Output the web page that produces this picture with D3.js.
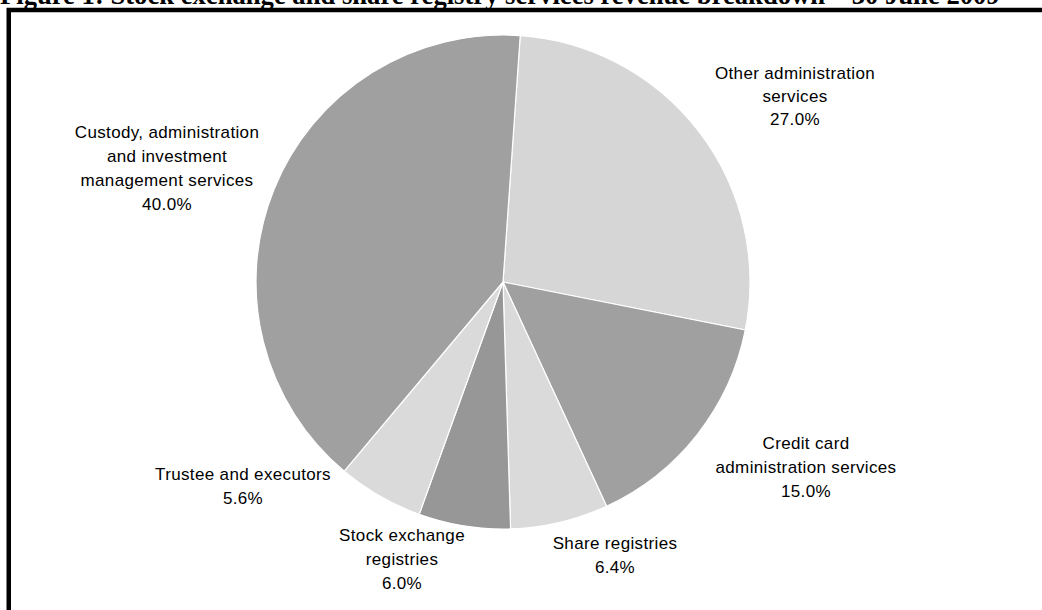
<!DOCTYPE html>
<html>
<head>
<meta charset="utf-8">
<script src="https://cdn.jsdelivr.net/npm/d3@7"></script>
<style>
  body { margin: 0; background: #fff; }
  svg { display: block; }
  .lbl { font-family: "Liberation Sans", Arial, sans-serif; font-size: 17px; letter-spacing: 0.35px; fill: #000; }
</style>
</head>
<body>
<div id="chart"></div>
<script>
var w = 1042;
var h = 610;

// data, clockwise from the top
var categories = ["Other administration services", "Credit card administration services",
    "Share registries", "Stock exchange registries", "Trustee and executors",
    "Custody, administration and investment management services"];
var values = [27.0, 15.0, 6.4, 6.0, 5.6, 40.0];
var labelLines = [
    ["Other administration", "services"],
    ["Credit card", "administration services"],
    ["Share registries"],
    ["Stock exchange", "registries"],
    ["Trustee and executors"],
    ["Custody, administration", "and investment", "management services"]
];
var fills = ["#d6d6d6", "#a0a0a0", "#dadada", "#979797", "#dadada", "#a0a0a0"];
var titleText = "Figure 1: Stock exchange and share registry services revenue breakdown \u2013 30 June 2009";

// label placement (centre x, centre y of first line)
var labelAt = [[795, 73], [806, 443], [615, 543], [402, 535], [243, 474], [167, 132]];
var lineGap = [23, 24, 24, 24, 24, 24];

var cx = 503, cy = 282, radius = 247;
var startDeg = 4;

var svg = d3.select("#chart")
    .append("svg")
    .attr("width", w)
    .attr("height", h);

// title, clipped by the top of the page
var title = svg.append("text")
    .attr("x", 0)
    .attr("y", 4)
    .style("font-family", "'Liberation Serif', 'Times New Roman', serif")
    .style("font-weight", "bold")
    .style("font-size", "20px")
    .text(titleText);
var tw = title.node().getComputedTextLength();
title.style("font-size", (20 * 1000 / tw) + "px");

// frame
svg.append("path")
    .attr("d", "M8.75," + h + "V10H" + w)
    .attr("fill", "none")
    .attr("stroke", "#000")
    .attr("stroke-width", 4.5);

var dataset = categories.map(function (c, i) {
    return { key: c, value: values[i], lines: labelLines[i], fill: fills[i], pos: labelAt[i], gap: lineGap[i] };
});

var pie = d3.pie()
    .sort(null)
    .value(function (d) { return d.value; })
    .startAngle(startDeg * Math.PI / 180)
    .endAngle(startDeg * Math.PI / 180 + 2 * Math.PI);

var arc = d3.arc().innerRadius(0).outerRadius(radius);

var g = svg.append("g")
    .attr("transform", "translate(" + cx + "," + cy + ")");

g.selectAll("path")
    .data(pie(dataset))
    .enter()
    .append("path")
    .attr("d", arc)
    .attr("fill", function (d) { return d.data.fill; })
    .attr("stroke", "#fff")
    .attr("stroke-width", 1.2);

var fmt = d3.format(".1f");

var labels = svg.selectAll("text.lbl")
    .data(dataset)
    .enter()
    .append("text")
    .attr("class", "lbl")
    .attr("text-anchor", "middle");

labels.each(function (d) {
    var t = d3.select(this);
    var lines = d.lines.concat([fmt(d.value) + "%"]);
    lines.forEach(function (s, i) {
        t.append("tspan")
            .attr("x", d.pos[0])
            .attr("y", d.pos[1] + i * d.gap + 6)
            .text(s);
    });
});
</script>
</body>
</html>
